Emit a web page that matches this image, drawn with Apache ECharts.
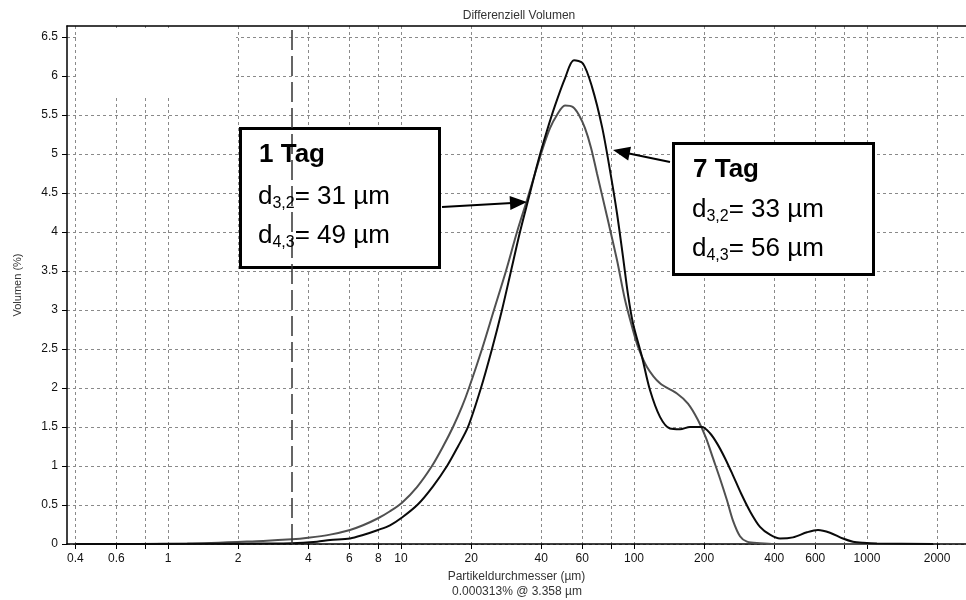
<!DOCTYPE html>
<html><head><meta charset="utf-8">
<script src="https://cdn.jsdelivr.net/npm/echarts@6/dist/echarts.min.js"></script>
<style>html,body{margin:0;padding:0;background:#fff}#c{width:966px;height:600px}</style>
</head><body><div id="c"></div>
<script>
// ---- data ----
const xTickLabels = [0.4, 0.6, 1, 2, 4, 6, 8, 10, 20, 40, 60, 100, 200, 400, 600, 1000, 2000];
const xGridValues = [0.4, 0.6, 0.8, 1, 2, 4, 6, 8, 10, 20, 40, 60, 80, 100, 200, 400, 600, 800, 1000, 2000];
const yTickValues = [0, 0.5, 1, 1.5, 2, 2.5, 3, 3.5, 4, 4.5, 5, 5.5, 6, 6.5];

const size1Tag = [0.4, 1.21, 2.56, 3.40, 3.99, 4.96, 6.04, 6.87, 7.97, 8.97, 10.1, 11.71, 13.58, 15.15, 16.72, 18.27, 19.58, 22.27, 25.06, 28.22, 31.47, 34.74, 37.6, 40.69, 43.61, 46.72, 50.57, 54.72, 58.05, 61.62, 65.39, 69.38, 76.59, 84.54, 91.5, 98.0, 104.0, 113.7, 129.3, 152.9, 170.5, 188.2, 203.7, 218.3, 233.9, 250.7, 266.0, 285.1, 305.5, 347.4, 402.9, 1920];
const vol1Tag  = [0, 0.005, 0.04, 0.06, 0.08, 0.12, 0.18, 0.24, 0.33, 0.42, 0.53, 0.73, 1.0, 1.25, 1.5, 1.76, 2.0, 2.5, 3.0, 3.5, 4.0, 4.41, 4.75, 5.08, 5.33, 5.5, 5.62, 5.6, 5.5, 5.33, 5.08, 4.75, 4.2, 3.64, 3.13, 2.79, 2.53, 2.27, 2.06, 1.93, 1.8, 1.59, 1.36, 1.1, 0.84, 0.56, 0.3, 0.1, 0.03, 0.01, 0, 0];

const size7Tag = [0.4, 1.51, 2.56, 3.40, 4.36, 4.96, 6.04, 6.87, 7.97, 8.97, 10.1, 11.83, 13.72, 15.76, 17.56, 19.39, 22.04, 24.58, 27.13, 29.66, 32.41, 35.43, 38.73, 42.34, 45.81, 50.57, 55.26, 60.4, 66.03, 72.9, 78.89, 84.54, 89.72, 94.24, 99.0, 108.2, 117.2, 129.3, 142.7, 157.6, 173.9, 195.8, 212.0, 227.2, 245.8, 266.0, 287.9, 314.7, 347.4, 383.4, 423.3, 481.3, 552.8, 616.3, 693.8, 788.8, 870.9, 960.9, 1104, 1920];
const vol7Tag  = [0, 0.003, 0.006, 0.01, 0.03, 0.05, 0.07, 0.115, 0.18, 0.24, 0.34, 0.51, 0.74, 1.0, 1.25, 1.5, 2.0, 2.5, 3.0, 3.5, 4.0, 4.45, 4.9, 5.3, 5.62, 5.97, 6.2, 6.16, 5.86, 5.35, 4.79, 4.24, 3.68, 3.2, 2.83, 2.4, 1.97, 1.63, 1.48, 1.47, 1.5, 1.5, 1.42, 1.29, 1.1, 0.88, 0.65, 0.42, 0.22, 0.12, 0.07, 0.085, 0.15, 0.18, 0.145, 0.07, 0.03, 0.015, 0.005, 0];

const markerSize = 3.358;
const xMin = 0.3685, xMax = 2661, yMax = 6.64;

// ---- chart ----
const FONT = "'Liberation Sans', Arial, sans-serif";
const L = v => Math.log10(v);
const fmt = v => String(Number(Math.pow(10, v).toPrecision(4)));
const pairs = (xs, ys) => xs.map((x, i) => [L(x), ys[i]]);
const gridLine = { show: true, lineStyle: { color: '#8a8a8a', type: [3, 3], width: 1 } };
const rich = {
  n: { fontSize: 26, fontFamily: FONT, color: '#000', lineHeight: 30, fontWeight: 'normal' },
  s: { fontSize: 16, fontFamily: FONT, color: '#000', lineHeight: 18, verticalAlign: 'bottom', fontWeight: 'normal' },
  b: { fontSize: 26, fontFamily: FONT, color: '#000', lineHeight: 30, fontWeight: 'bold' }
};
const ann = (text, left, top) => ({ text, left, top, padding: 0, textStyle: { fontWeight: 'normal', rich } });

const chart = echarts.init(document.getElementById('c'));
chart.setOption({
  animation: false,
  backgroundColor: '#fff',
  title: [
    { text: 'Differenziell Volumen', left: 519, top: 10, padding: 0, textAlign: 'center',
      textStyle: { fontSize: 12, fontWeight: 'normal', color: '#333', fontFamily: FONT } },
    { text: '0.000313% @ 3.358 µm', left: 517, top: 586, padding: 0, textAlign: 'center',
      textStyle: { fontSize: 12, fontWeight: 'normal', color: '#333', fontFamily: FONT } },
    ann('{b|1 Tag}', 259, 140),
    ann('{n|d}{s|3,2}{n|= 31 µm}', 258, 182),
    ann('{n|d}{s|4,3}{n|= 49 µm}', 258, 221),
    ann('{b|7 Tag}', 693, 155),
    ann('{n|d}{s|3,2}{n|= 33 µm}', 692, 195),
    ann('{n|d}{s|4,3}{n|= 56 µm}', 692, 234)
  ],
  grid: { left: 67, right: 0, top: 26, bottom: 56, containLabel: false },
  xAxis: [{
    type: 'value', min: L(xMin), max: L(xMax), position: 'bottom',
    axisLine: { show: true, onZero: false, lineStyle: { color: '#000', width: 1.5 } },
    axisTick: { show: true, inside: false, length: 5, customValues: xGridValues.map(L), lineStyle: { color: '#000' } },
    axisLabel: { customValues: xTickLabels.map(L), formatter: fmt, margin: 9, fontSize: 12, color: '#111', fontFamily: FONT },
    splitLine: gridLine,
    name: 'Partikeldurchmesser (µm)', nameLocation: 'middle', nameGap: 27,
    nameTextStyle: { fontSize: 12, color: '#333', fontFamily: FONT }
  }, {
    type: 'value', min: L(xMin), max: L(xMax), position: 'top',
    axisLine: { show: true, onZero: false, lineStyle: { color: '#000', width: 1.5 } },
    axisTick: { show: false }, axisLabel: { show: false }, splitLine: { show: false }
  }],
  yAxis: {
    type: 'value', min: 0, max: yMax,
    axisLine: { show: true, onZero: false, lineStyle: { color: '#000', width: 1.5 } },
    axisTick: { show: true, length: 5, customValues: yTickValues, lineStyle: { color: '#000' } },
    axisLabel: { customValues: yTickValues, margin: 9, fontSize: 12, color: '#111', fontFamily: FONT },
    splitLine: gridLine,
    name: 'Volumen (%)', nameLocation: 'middle', nameGap: 44, nameRotate: 90,
    nameTextStyle: { fontSize: 11, color: '#333', fontFamily: FONT }
  },
  series: [
    { name: '1 Tag', type: 'line', data: pairs(size1Tag, vol1Tag), showSymbol: false, smooth: 0.3,
      lineStyle: { color: '#505050', width: 2 }, z: 3 },
    { name: '7 Tag', type: 'line', data: pairs(size7Tag, vol7Tag), showSymbol: false, smooth: 0.3,
      lineStyle: { color: '#0a0a0a', width: 2 }, z: 4,
      markLine: { silent: true, symbol: ['none', 'none'], label: { show: false },
        lineStyle: { color: '#333', width: 1.5, type: [20, 6] },
        data: [{ xAxis: L(markerSize) }] } }
  ],
  graphic: [
    { type: 'rect', z: 5, shape: { x: 79, y: 28, width: 157, height: 68 }, style: { fill: '#fff' } },
    { type: 'rect', z: 5, shape: { x: 240.5, y: 128.5, width: 199, height: 139 }, style: { fill: '#fff', stroke: '#000', lineWidth: 3 } },
    { type: 'rect', z: 5, shape: { x: 673.5, y: 143.5, width: 200, height: 131 }, style: { fill: '#fff', stroke: '#000', lineWidth: 3 } },
    { type: 'line', z: 5, shape: { x1: 442, y1: 207, x2: 512, y2: 203 }, style: { stroke: '#000', lineWidth: 2 } },
    { type: 'polygon', z: 5, shape: { points: [[527, 202], [510.4, 210], [509.6, 196]] }, style: { fill: '#000' } },
    { type: 'line', z: 5, shape: { x1: 670, y1: 162, x2: 629, y2: 153.5 }, style: { stroke: '#000', lineWidth: 2 } },
    { type: 'polygon', z: 5, shape: { points: [[613, 150], [631, 146.7], [628.2, 160.4]] }, style: { fill: '#000' } }
  ]
});
</script>
</body></html>
